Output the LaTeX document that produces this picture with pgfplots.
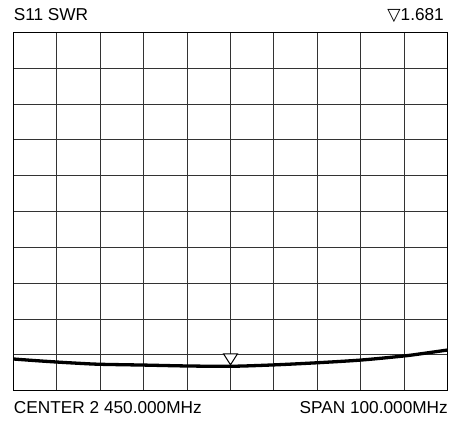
\documentclass[border=0pt]{standalone}
\usepackage{pgfplots}
\pgfplotsset{compat=1.18}
\usepackage{fontspec}
\setmainfont{Liberation Sans}
\newfontfamily\symfont{DejaVu Sans}
\pgfdeclareplotmark{dtri}{%
  \pgfpathmoveto{\pgfpoint{0pt}{1.5bp}}%
  \pgfpathlineto{\pgfpoint{-7bp}{12.5bp}}%
  \pgfpathlineto{\pgfpoint{7bp}{12.5bp}}%
  \pgfpathclose
  \pgfusepath{fill,stroke}%
}
\begin{document}
\begin{tikzpicture}
\useasboundingbox (-13.3bp,-30.3bp) rectangle (436.7bp,390.7bp);
\begin{axis}[
  scale only axis,
  width=434.4bp, height=358.4bp,
  xmin=2400, xmax=2500, ymin=1, ymax=11,
  xtick={2400,2410,...,2500}, ytick={1,2,...,11},
  xticklabels={}, yticklabels={},
  major tick length=0pt,
  grid=major,
  grid style={black!80, line width=0.9bp},
  axis line style={black, line width=1.1bp},
  clip=false,
]
\addplot[black, line width=3.3bp, smooth, tension=0.5] coordinates {
(2400,1.885) (2405,1.84) (2410,1.80) (2415,1.765) (2420,1.737)
(2430,1.715) (2440,1.69) (2450,1.681) (2460,1.72) (2470,1.78)
(2480,1.855) (2490,1.97) (2495,2.05) (2500,2.135)
};
\addplot[only marks, mark=dtri, mark options={draw=black, fill=white, line width=1bp}] coordinates {(2450,1.681)};
\end{axis}
\fontsize{17.3}{20}\selectfont
\node[anchor=base west, inner sep=0pt] at (0.3bp,370bp) {S11 SWR};
\node[anchor=base east, inner sep=0pt] at (430.7bp,370bp) {{\symfont ▽}1.681};
\node[anchor=base west, inner sep=0pt] at (0.5bp,-22.6bp) {CENTER 2 450.000MHz};
\node[anchor=base east, inner sep=0pt] at (434.7bp,-22.6bp) {SPAN 100.000MHz};
\end{tikzpicture}
\end{document}
